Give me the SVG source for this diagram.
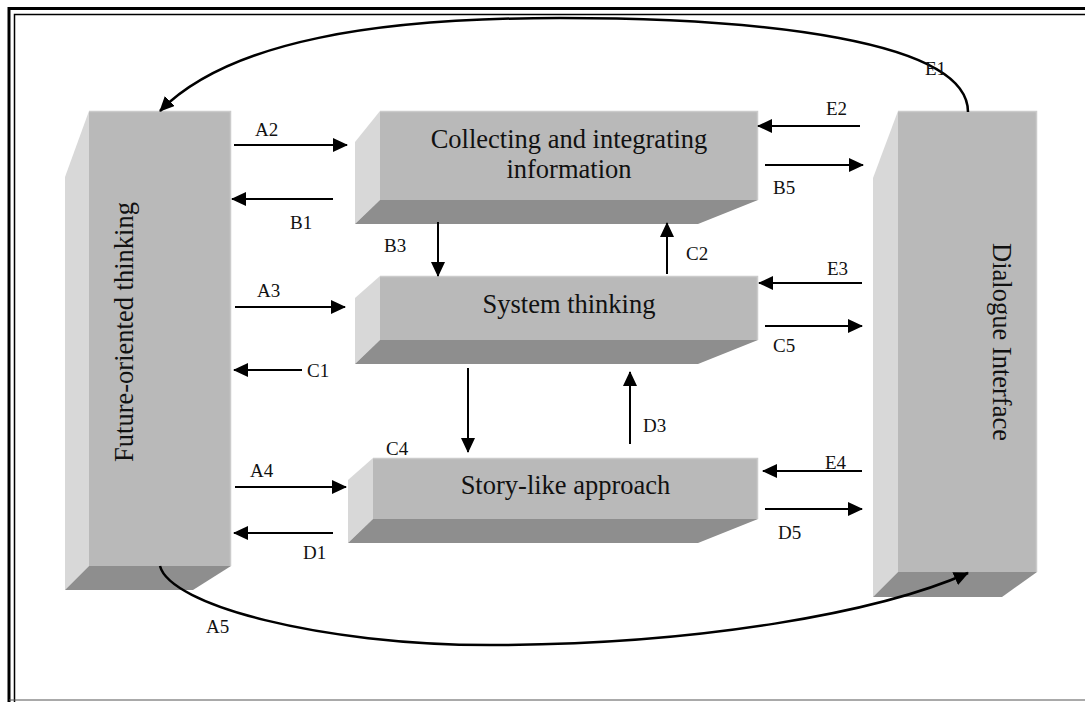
<svg xmlns="http://www.w3.org/2000/svg" width="1085" height="702" viewBox="0 0 1085 702">
<style>
.front{fill:#b9b9b9}
.side{fill:#d8d8d8}
.bottom{fill:#8e8e8e}
.edge{fill:none;stroke:#cbcbcb;stroke-width:1.5}
.big{font-family:"Liberation Serif","Times New Roman",serif;font-size:26.5px;fill:#111;text-anchor:middle}
.lbl{font-family:"Liberation Serif","Times New Roman",serif;font-size:19px;fill:#111}
.arr{fill:none;stroke:#000;stroke-width:2;marker-end:url(#ah)}
.curve{fill:none;stroke:#000;stroke-width:2.5;marker-end:url(#ah)}
</style>
<defs>
<marker id="ah" viewBox="0 0 15 14" refX="14" refY="7" markerWidth="15" markerHeight="14" markerUnits="userSpaceOnUse" orient="auto">
<path d="M0,0 L15,7 L0,14 z" fill="#000"/>
</marker>
</defs>
<rect width="1085" height="702" fill="#fff"/>
<g id="border" fill="none" stroke="#000">
<path d="M9,702 V8.5 H1085" stroke-width="3"/>
<path d="M14.5,702 V14.5 H1085" stroke-width="1.5"/>
<path d="M9,700 H1085" stroke-width="1" stroke="#555"/>
</g>
<g id="future">
<polygon class="side" points="65,177 89,111 89,566 65,590"/>
<polygon class="bottom" points="89,566 231,566 193,590 65,590"/>
<rect class="front" x="89" y="111" width="142" height="455"/>
<path class="edge" d="M89,111.5 H230.5 V566"/>
<text class="big" transform="translate(133,332) rotate(-90)">Future-oriented thinking</text>
</g>
<g id="collecting">
<polygon class="side" points="355,142 380,111 380,200 355,224"/>
<polygon class="bottom" points="380,200 758,200 698,224 355,224"/>
<rect class="front" x="380" y="111" width="378" height="89"/>
<path class="edge" d="M380,111.5 H757.5 V200"/>
<text class="big" x="569" y="148">Collecting and integrating</text>
<text class="big" x="569" y="178">information</text>
</g>
<g id="system">
<polygon class="side" points="355,298 380,276 380,340 355,364"/>
<polygon class="bottom" points="380,340 758,340 698,364 355,364"/>
<rect class="front" x="380" y="276" width="378" height="64"/>
<path class="edge" d="M380,276.5 H757.5 V340"/>
<text class="big" x="569" y="313">System thinking</text>
</g>
<g id="story">
<polygon class="side" points="348,480 373,458 373,519 348,543"/>
<polygon class="bottom" points="373,519 758,519 698,543 348,543"/>
<rect class="front" x="373" y="458" width="385" height="61"/>
<path class="edge" d="M373,458.5 H757.5 V519"/>
<text class="big" x="565.5" y="494">Story-like approach</text>
</g>
<g id="dialogue">
<polygon class="side" points="873,178 898,111 898,572 873,597"/>
<polygon class="bottom" points="898,572 1037,572 1002,597 873,597"/>
<rect class="front" x="898" y="111" width="139" height="461"/>
<path class="edge" d="M898,111.5 H1036.5 V572"/>
<text class="big" transform="translate(993,342) rotate(90)">Dialogue Interface</text>
</g>
<g id="connectors">
<path class="curve" d="M968,112 C968,40 760,18 560,18 C380,18 230,40 160,111"/>
<path class="curve" d="M160,566 C170,605 320,645 490,645 C700,645 880,612 968,573"/>
<path class="arr" d="M234,145 H347"/>
<path class="arr" d="M333,199 H232"/>
<path class="arr" d="M860,126 H758"/>
<path class="arr" d="M765,165 H863"/>
<path class="arr" d="M438,222 V276"/>
<path class="arr" d="M667,274 V223"/>
<path class="arr" d="M235,307 H345"/>
<path class="arr" d="M302,370 H234"/>
<path class="arr" d="M862,283 H759"/>
<path class="arr" d="M765,326 H862"/>
<path class="arr" d="M468,368 V452"/>
<path class="arr" d="M630,444 V372"/>
<path class="arr" d="M235,487 H346"/>
<path class="arr" d="M333,533 H234"/>
<path class="arr" d="M862,471 H763"/>
<path class="arr" d="M765,509 H862"/>
</g>
<g id="labels">
<text class="lbl" x="925" y="75">E1</text>
<text class="lbl" x="255" y="136">A2</text>
<text class="lbl" x="290" y="229">B1</text>
<text class="lbl" x="826" y="115">E2</text>
<text class="lbl" x="773" y="194">B5</text>
<text class="lbl" x="384" y="252">B3</text>
<text class="lbl" x="686" y="260">C2</text>
<text class="lbl" x="257" y="297">A3</text>
<text class="lbl" x="307" y="377">C1</text>
<text class="lbl" x="827" y="275">E3</text>
<text class="lbl" x="773" y="352">C5</text>
<text class="lbl" x="386" y="455">C4</text>
<text class="lbl" x="643" y="432">D3</text>
<text class="lbl" x="250" y="477">A4</text>
<text class="lbl" x="303" y="559">D1</text>
<text class="lbl" x="825" y="469">E4</text>
<text class="lbl" x="778" y="539">D5</text>
<text class="lbl" x="206" y="633">A5</text>
</g>
</svg>
